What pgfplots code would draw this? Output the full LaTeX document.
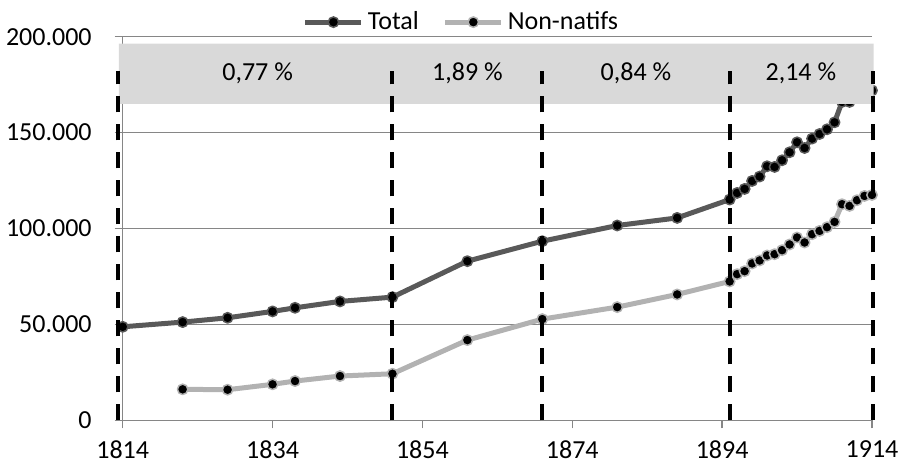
\documentclass[border=0pt]{standalone}
\usepackage{fontspec}
\setmainfont{Carlito}
\usepackage{pgfplots}
\pgfplotsset{compat=1.18}
\definecolor{totalc}{HTML}{595959}
\definecolor{natc}{HTML}{B2B2B2}
\definecolor{bandc}{HTML}{D9D9D9}
\definecolor{gridc}{HTML}{868686}

\begin{document}
\begin{tikzpicture}[font=\fontsize{13}{15.6}\selectfont]
\begin{axis}[
    name=ax,
    set layers,
    scale only axis,
    width=374.65pt, height=191.8pt,
    xmin=1814, xmax=1914,
    ymin=0, ymax=200000,
    axis lines=left,
    axis line style={gridc, line width=0.75pt, -},
    xtick={1814,1834,...,1914},
    ytick={0,50000,100000,150000,200000},
    tick align=outside,
    major tick length=4pt,
    tick style={gridc, line width=0.75pt},
    ymajorgrids,
    grid style={gridc, line width=0.75pt},
    scaled y ticks=false,
    yticklabel style={xshift=-8pt, /pgf/number format/.cd, fixed, precision=0, 1000 sep={.}},
    xticklabel style={yshift=-2.5pt, /pgf/number format/1000 sep={}},
    /pgf/number format/assume math mode=true,
    clip=false,
    legend columns=2,
    legend style={at={(0.4535,1.038)}, anchor=center, draw=none, fill=none,
        /tikz/every even column/.append style={column sep=10pt}},
    legend image code/.code={\draw[#1, mark repeat=2, mark phase=2]
        plot coordinates {(0pt,0pt) (14pt,0pt) (28pt,0pt)};},
]
% Total
\addplot[totalc, line width=2.5pt, line join=round, mark=*, mark size=2.6pt,
    mark options={fill=black, draw=totalc, line width=0.75pt}] coordinates {
    (1814,48750) (1822,51200) (1828,53440) (1834,56770) (1837,58650)
    (1843,61980) (1850,64220) (1860,82970) (1870,93380) (1880,101560)
    (1888,105520) (1895,115100) (1896,118540) (1897,120630) (1898,124800)
    (1899,127070) (1900,132450) (1901,132100) (1902,135570) (1903,139740)
    (1904,144950) (1905,141980) (1906,146870) (1907,149270) (1908,151720)
    (1909,155360) (1910,166000) (1911,166000) (1912,168500) (1913,170500)
    (1914,172000)};
\addlegendentry{Total}
% Non-natifs
\addplot[natc, line width=2.5pt, line join=round, mark=*, mark size=2.6pt,
    mark options={fill=black, draw=natc, line width=0.75pt}] coordinates {
    (1822,16150) (1828,15950) (1834,18750) (1837,20470) (1843,23070)
    (1850,24270) (1860,41820) (1870,52760) (1880,59010) (1888,65620)
    (1895,72400) (1896,76200) (1897,77760) (1898,81770) (1899,83330)
    (1900,85940) (1901,86610) (1902,88700) (1903,91670) (1904,95310)
    (1905,92710) (1906,97030) (1907,98750) (1908,100680) (1909,103440)
    (1910,112660) (1911,111780) (1912,114740) (1913,116980) (1914,117500)};
\addlegendentry{Non-natifs}
% grey band with growth rates, drawn over the series
\addplot[draw=none, fill=bandc, forget plot, on layer=axis descriptions] coordinates {
    (1813.5,165000) (1914.2,165000) (1914.2,196400) (1813.5,196400) (1813.5,165000)};
% period limits
\addplot[black, line width=2pt, dash pattern=on 8.25pt off 5.75pt, forget plot, on layer=axis foreground] coordinates {(1813.4,0) (1813.4,182300)};
\addplot[black, line width=2pt, dash pattern=on 8.25pt off 5.75pt, forget plot, on layer=axis foreground] coordinates {(1850,0) (1850,182300)};
\addplot[black, line width=2pt, dash pattern=on 8.25pt off 5.75pt, forget plot, on layer=axis foreground] coordinates {(1870,0) (1870,182300)};
\addplot[black, line width=2pt, dash pattern=on 8.25pt off 5.75pt, forget plot, on layer=axis foreground] coordinates {(1895,0) (1895,182300)};
\addplot[black, line width=2pt, dash pattern=on 8.25pt off 5.75pt, forget plot, on layer=axis foreground] coordinates {(1914.1,0) (1914.1,182300)};
\begin{pgfonlayer}{axis foreground}
\node at (axis cs:1832,181000) {0,77 \%};
\node at (axis cs:1860,181000) {1,89 \%};
\node at (axis cs:1882.5,181000) {0,84 \%};
\node at (axis cs:1904.5,181000) {2,14 \%};
\end{pgfonlayer}
\end{axis}
\pgfresetboundingbox
\path ([xshift=-61.35pt,yshift=-22.85pt]ax.south west) rectangle ([xshift=14pt,yshift=18.35pt]ax.north east);
\end{tikzpicture}
\end{document}
